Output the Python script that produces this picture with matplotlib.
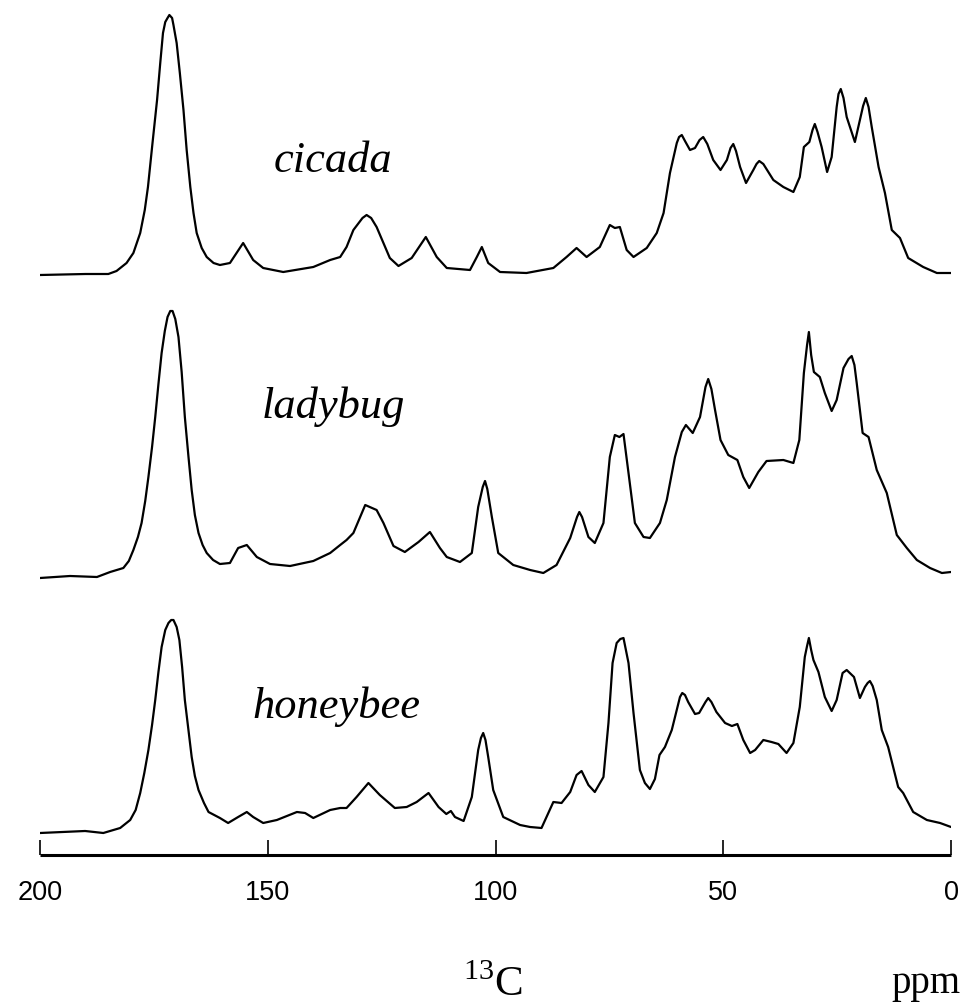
import matplotlib
matplotlib.use("Agg")
import matplotlib.pyplot as plt

# 13C CP-MAS spectra of insect cuticle, as (chemical shift in ppm, intensity) pairs
cicada_points = [
    (200, -1), (190, 0), (185, 0), (183.2, 3), (181, 11), (179.5, 21), (178, 41), (177, 64),
    (176.3, 87), (175.3, 131), (174.3, 174), (173.6, 211), (173, 241), (172.5, 252), (172, 256),
    (171.6, 259), (171, 256), (170.7, 249), (170, 231), (169.3, 201), (168.5, 164), (167.8, 124),
    (167, 87), (166.3, 61), (165.6, 41), (164.5, 26), (163.4, 17), (161.9, 11), (160.5, 9),
    (158.3, 11), (155.4, 31), (153.2, 14), (151, 6), (146.6, 2), (140, 7), (136.3, 14),
    (134.1, 17), (132.7, 27), (131.2, 44), (129.2, 56), (128.3, 59), (127.3, 56), (126.1, 47),
    (123.2, 16), (121.3, 8), (118.4, 16), (115.3, 37), (112.9, 17), (110.7, 6), (105.6, 4),
    (104.1, 17), (103, 27), (101.6, 11), (99, 2), (93.2, 1), (87.3, 6), (84.4, 17), (82.2, 26),
    (80, 17), (77.1, 27), (74.9, 49), (73.8, 46), (72.7, 47), (71.2, 24), (69.7, 17), (66.8, 26),
    (64.6, 41), (63.1, 61), (61.7, 101), (60.2, 131), (59.7, 137), (59.1, 139), (58.4, 133),
    (57.3, 124), (56.2, 126), (55.2, 134), (54.4, 137), (53.5, 130), (52.2, 114), (50.6, 104),
    (49.2, 114), (48.4, 126), (47.8, 130), (47.2, 123), (46.3, 107), (45, 91), (43.4, 104),
    (42.7, 110), (42.1, 113), (41.2, 110), (39, 94), (36.8, 87), (34.6, 82), (33.2, 97),
    (32.3, 127), (31.1, 132), (30.4, 144), (29.9, 150), (29.3, 142), (28.4, 127), (27.2, 102),
    (26.2, 117), (25.1, 167), (24.7, 180), (24.2, 185), (23.6, 176), (22.9, 157), (21.1, 132),
    (20, 154), (19.3, 168), (18.7, 176), (18.1, 167), (17.4, 147), (15.9, 107), (14.5, 81),
    (13, 44), (11.2, 36), (9.4, 16), (6.1, 7), (3.1, 1), (0, 1),
]

ladybug_points = [
    (200, -1), (193.4, 1), (187.5, 0), (184.6, 5), (181.7, 9), (180.5, 16), (179.5, 27),
    (178.5, 40), (177.7, 54), (176.9, 76), (176.2, 100), (175.4, 130), (174.7, 160), (174, 193),
    (173.3, 224), (172.6, 246), (172, 260), (171.4, 266), (170.9, 266), (170.3, 258),
    (169.6, 240), (168.9, 205), (168.2, 160), (167.4, 120), (166.7, 87), (166, 62), (165.2, 44),
    (164.3, 32), (163.4, 24), (162, 17), (160.5, 13), (158.3, 14), (156.5, 29), (154.6, 32),
    (152.4, 20), (149.5, 13), (145.1, 11), (140, 16), (136.3, 24), (134.1, 32), (132.7, 37),
    (131.2, 44), (128.6, 72), (126.1, 67), (124.6, 54), (122.4, 31), (119.9, 25), (116.9, 35),
    (114.4, 45), (112.2, 29), (110.7, 20), (107.8, 15), (105.2, 24), (103.8, 70), (102.8, 90),
    (102.3, 96), (101.8, 88), (100.8, 60), (99.4, 24), (96.1, 12), (92.4, 7), (89.5, 4),
    (86.6, 12), (83.6, 39), (82.1, 60), (81.6, 65), (81, 60), (79.6, 40), (78.2, 34), (76.3, 54),
    (74.9, 120), (73.8, 142), (72.8, 140), (71.9, 143), (70.8, 104), (69.4, 54), (67.5, 40),
    (66.1, 39), (63.9, 54), (62.4, 77), (60.6, 120), (59.1, 145), (58.2, 152), (56.7, 144),
    (55.1, 160), (53.9, 190), (53.3, 198), (52.6, 188), (51.8, 167), (50.6, 137), (48.9, 122),
    (46.9, 117), (45.6, 100), (44.3, 89), (42.3, 105), (40.5, 116), (36.8, 117), (34.6, 114),
    (33.3, 137), (32.3, 204), (31.6, 232), (31.2, 245), (30.7, 222), (30.1, 205), (28.8, 200),
    (27.7, 184), (26.2, 166), (25.1, 177), (23.6, 209), (22.5, 218), (21.8, 221), (21.2, 212),
    (20.7, 194), (19.4, 144), (18.1, 140), (16.3, 107), (14.1, 84), (11.9, 42), (9.7, 29),
    (7.5, 17), (4.6, 9), (2, 4), (0, 5),
]

honeybee_points = [
    (200, -3), (194.9, -2), (190.1, -1), (186.1, -3), (182.4, 2), (180.2, 10), (179, 20),
    (178, 37), (177.1, 57), (176.2, 80), (175.4, 105), (174.7, 130), (174, 158), (173.3, 183),
    (172.5, 200), (171.8, 207), (171.2, 210), (170.7, 210), (170, 203), (169.4, 190),
    (168.8, 163), (168.2, 130), (167.4, 100), (166.7, 73), (166, 54), (165.2, 40), (164, 27),
    (163, 18), (160.5, 12), (158.7, 7), (156.5, 13), (154.6, 18), (153.2, 13), (151, 7),
    (148, 10), (143.6, 18), (141.8, 17), (140, 12), (136.3, 20), (134.1, 22), (132.7, 22),
    (130.5, 33), (127.9, 47), (125.4, 35), (122.1, 22), (119.5, 23), (117.3, 28), (114.7, 37),
    (112.5, 23), (110.8, 16), (109.8, 19), (108.9, 13), (107, 9), (105.2, 33), (103.8, 80),
    (103.2, 92), (102.7, 97), (102.2, 90), (101.6, 73), (100.5, 40), (98.3, 13), (94.6, 5),
    (92.4, 3), (89.9, 2), (88.4, 17), (87.3, 28), (85.5, 27), (83.6, 38), (82.2, 55), (81.1, 59),
    (79.6, 45), (78.2, 38), (76.3, 53), (75.2, 107), (74.3, 167), (73.4, 187), (72.6, 191),
    (71.9, 192), (70.8, 167), (69.7, 117), (68.3, 60), (67.2, 47), (66.1, 41), (65, 51),
    (64, 75), (62.8, 83), (61.3, 100), (60.2, 120), (59.5, 133), (59, 137), (58.4, 135),
    (57.7, 128), (56.2, 116), (55.3, 117), (53.9, 128), (53.3, 132), (52.6, 128), (51.5, 118),
    (49.6, 107), (48.1, 104), (46.9, 106), (45.6, 90), (44.1, 77), (43, 80), (41.2, 90),
    (39.4, 88), (37.9, 86), (36.1, 77), (34.6, 87), (33.2, 123), (32.1, 173), (31.6, 184),
    (31.2, 192), (30.7, 180), (30.2, 170), (29.1, 158), (27.7, 133), (26.2, 119), (25.1, 130),
    (23.8, 157), (22.9, 160), (21.3, 153), (20, 132), (18.9, 143), (18.3, 147), (17.8, 149),
    (17.2, 144), (16.3, 130), (15.2, 100), (13.8, 83), (11.6, 43), (10.5, 37), (8.3, 18),
    (5.3, 10), (2.4, 7), (0, 3),
]

names = ["cicada", "ladybug", "honeybee"]
offsets = [581, 278, 25]
label_x = [135.7, 135.5, 135.0]
label_y = [683, 437, 137]

tick_values = [200, 150, 100, 50, 0]

plt.rcParams["mathtext.fontset"] = "custom"
plt.rcParams["mathtext.rm"] = "Liberation Serif"

W, H = 976, 1008
fig = plt.figure(figsize=(W / 100, H / 100), dpi=100)
ax = fig.add_axes([40 / W, 153 / H, 911 / W, 855 / H])

for points, off in zip([cicada_points, ladybug_points, honeybee_points], offsets):
    ppm = [p for p, _ in points]
    inten = [v + off for _, v in points]
    ax.plot(ppm, inten, color="black", lw=1.6,
            solid_joinstyle="round", solid_capstyle="round")

for name, lx, ly in zip(names, label_x, label_y):
    ax.text(lx, ly, name, fontsize=32, fontstyle="italic", family="Liberation Serif",
            ha="center", va="baseline")

ax.set_xlim(200, 0)
ax.set_ylim(0, 855)
for side in ("left", "top", "right"):
    ax.spines[side].set_visible(False)
ax.spines["bottom"].set_linewidth(2.2)
ax.spines["bottom"].set_capstyle("butt")
ax.set_yticks([])
ax.set_xticks(tick_values)
ax.set_xticklabels([str(t) for t in tick_values], family="Liberation Sans", fontsize=19.5)
ax.tick_params(axis="x", direction="in", length=11, width=1.2, pad=18)

# axis caption: nucleus under the centre, unit at the right end
fig.text(493 / W, (H - 996) / H, r"$^{13}\mathrm{C}$", fontsize=31,
         ha="center", va="baseline")
fig.text(926 / W, (H - 993) / H, "ppm", fontsize=28,
         family="Liberation Serif", ha="center", va="baseline")

fig.savefig("out.png", dpi=100, facecolor="white")
